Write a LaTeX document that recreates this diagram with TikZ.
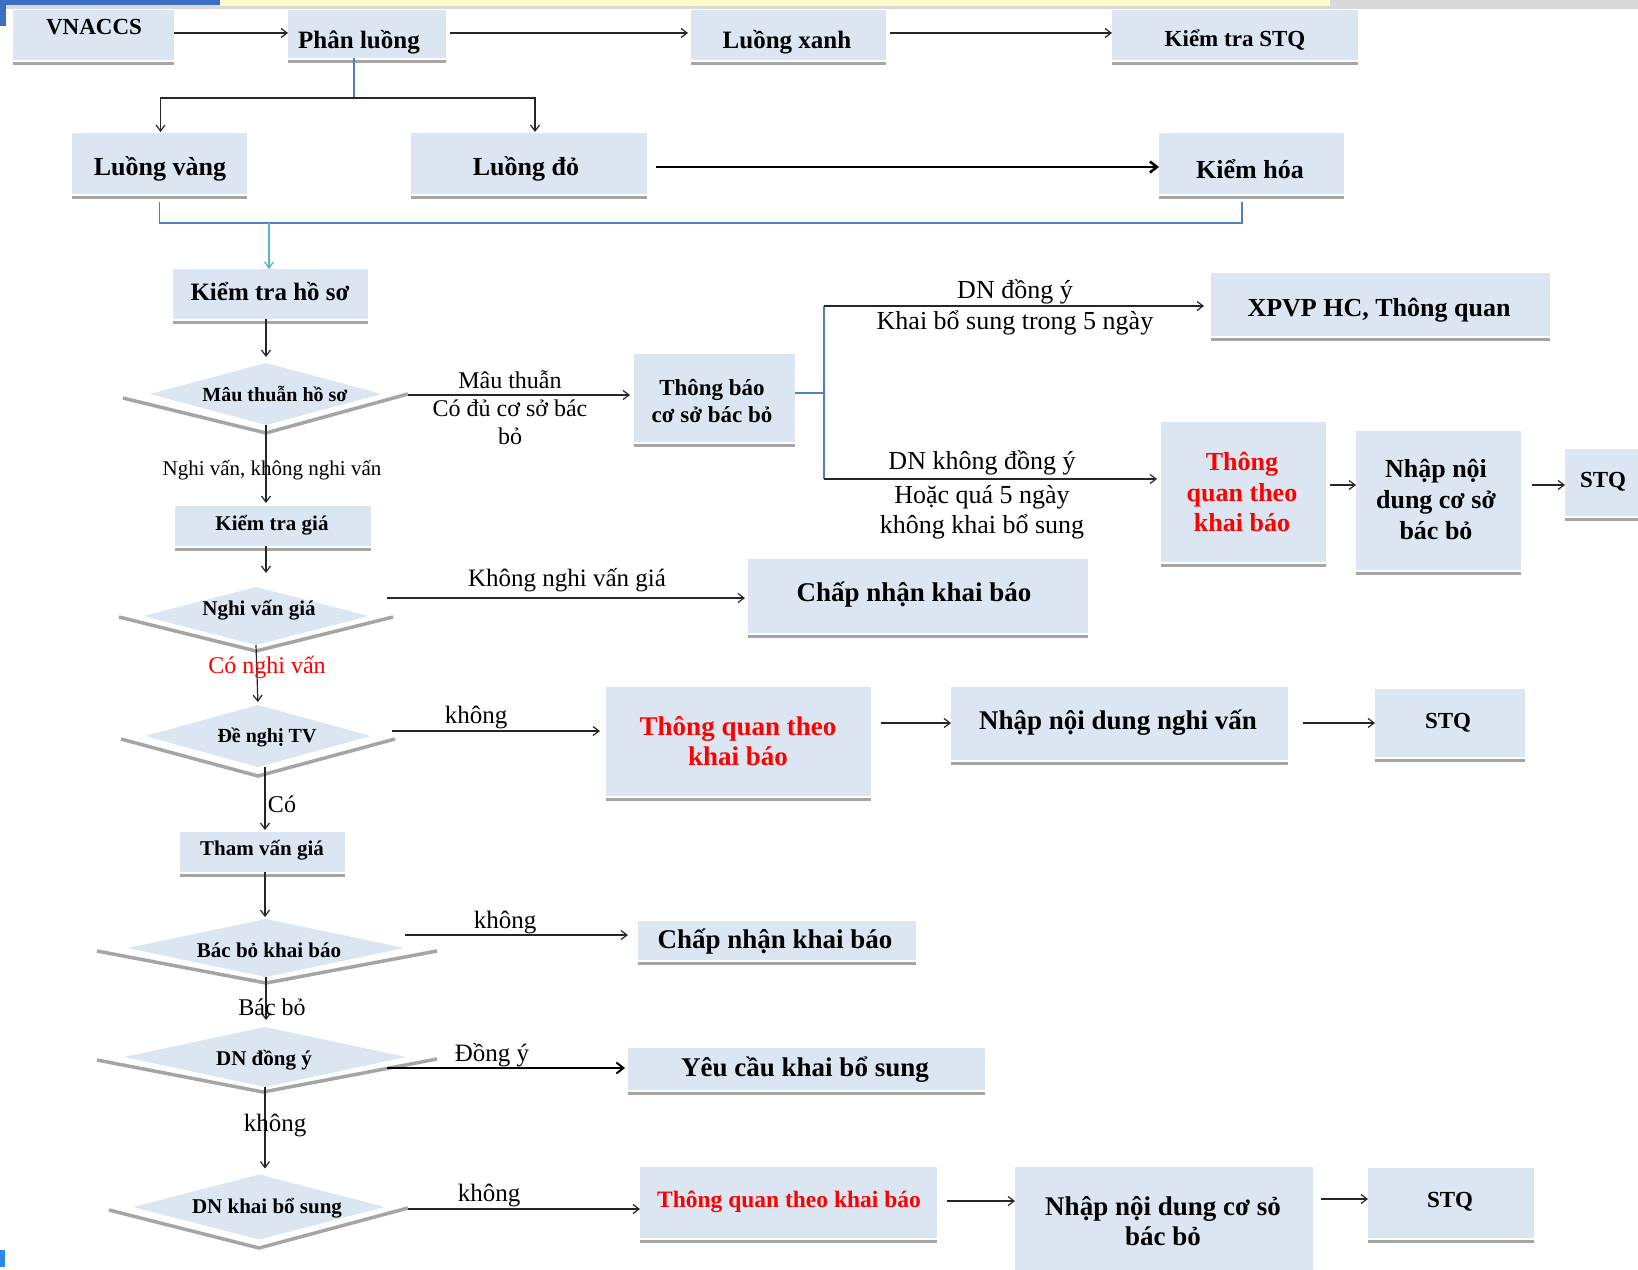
\documentclass[tikz,border=0pt]{standalone}
\usepackage{fontspec}
\setmainfont{Liberation Serif}
\usetikzlibrary{arrows.meta,shapes.geometric}
\definecolor{boxblue}{HTML}{DCE6F2}
\definecolor{shadgray}{HTML}{A5A5A5}
\definecolor{lineblue}{HTML}{4F81BD}
\definecolor{cyanline}{HTML}{5FB0D0}
\definecolor{redtxt}{HTML}{FF0000}
\definecolor{barblue}{HTML}{3A6FC4}
\definecolor{markblue}{HTML}{2A86F0}
\newcommand\BoxAt[5]{%
 \node[box, minimum width={(#4-#2)*1pt}, minimum height={(#5-#3)*1pt}] (#1) at ({(#2+#4)/2},{(#3+#5)/2}) {};
 \draw[shad] ([yshift=-3pt]#1.south west) -- ([yshift=-3pt]#1.south east);}
\begin{document}
\begin{tikzpicture}[x=1pt,y=-1pt,
 box/.style={fill=boxblue, draw=none, inner sep=0pt, outer sep=0pt},
 shad/.style={draw=shadgray, line width=3pt},
 dia/.style={diamond, fill=boxblue, draw=none, inner sep=0pt, outer sep=0pt},
 chev/.style={draw=shadgray, line width=3.5pt, line join=miter},
 arr/.style={draw=black!85, line width=1.2pt, -{Straight Barb[length=6pt,width=9pt]}},
 tarr/.style={draw=black, line width=2.6pt, -{Straight Barb[length=7pt,width=11pt]}},
 carr/.style={draw=cyanline, line width=1.3pt, -{Straight Barb[length=6pt,width=9pt]}},
 bl/.style={draw=lineblue, line width=1.6pt},
 bt/.style 2 args={inner sep=0pt, align=center, font=\fontsize{#1}{#2}\selectfont\bfseries},
 rt/.style 2 args={inner sep=0pt, align=center, font=\fontsize{#1}{#2}\selectfont},
]
\useasboundingbox (0,0) rectangle (1638,1269);
\clip (0,0) rectangle (1638,1269);
\fill[white] (0,0) rectangle (1638,1269);
% screenshot strip
\fill[gray!30] (0,0) rectangle (1638,9);
\fill[yellow!20] (220,0) rectangle (1330,6);
\fill[barblue] (0,0) rectangle (220,5);
\fill[barblue] (0,0) rectangle (6,26);
\fill[markblue] (0,1250) rectangle (5,1267);

% boxes
\BoxAt{vn}{13}{10}{174}{60}
\BoxAt{pl}{288}{10}{446}{58}
\BoxAt{lx}{691}{10}{886}{60}
\BoxAt{ks}{1112}{10}{1358}{60}
\BoxAt{lv}{72}{133}{247}{194}
\BoxAt{ld}{411}{133}{647}{194}
\BoxAt{kh}{1159}{133}{1344}{194}
\BoxAt{kths}{173}{269}{368}{319}
\BoxAt{tb}{634}{354}{795}{442}
\BoxAt{xp}{1211}{273}{1550}{336}
\BoxAt{rq}{1161}{422}{1326}{562}
\BoxAt{nc}{1356}{431}{1521}{570}
\BoxAt{sa}{1565}{449}{1660}{516}
\BoxAt{ktg}{175}{506}{371}{546}
\BoxAt{cna}{748}{559}{1088}{633}
\BoxAt{rqb}{606}{687}{871}{796}
\BoxAt{nv}{951}{687}{1288}{760}
\BoxAt{sb}{1375}{689}{1525}{757}
\BoxAt{tvg}{180}{832}{345}{872}
\BoxAt{cnb}{638}{921}{916}{960}
\BoxAt{yc}{628}{1048}{985}{1090}
\BoxAt{rqc}{640}{1167}{937}{1238}
\BoxAt{ncb}{1015}{1167}{1313}{1300}
\BoxAt{sc}{1368}{1168}{1534}{1238}

% diamonds
\node[dia, minimum width=232pt, minimum height=62pt] (d1) at (266,394) {};
\draw[chev] (123,398) -- (266,433) -- (408,394);
\node[dia, minimum width=225pt, minimum height=58pt] (d2) at (256,616) {};
\draw[chev] (119,617) -- (256,651) -- (393,617);
\node[dia, minimum width=225pt, minimum height=62pt] (d3) at (258,736) {};
\draw[chev] (121,739) -- (258,776) -- (395,739);
\node[dia, minimum width=277pt, minimum height=58pt] (d4) at (266,948) {};
\draw[chev] (97,951) -- (266,983) -- (437,951);
\node[dia, minimum width=282pt, minimum height=60pt] (d5) at (265,1057) {};
\draw[chev] (97,1060) -- (263,1092) -- (437,1059);
\node[dia, minimum width=251pt, minimum height=65pt] (d6) at (259,1207) {};
\draw[chev] (109,1210) -- (259,1248) -- (408,1208);

% top row connectors
\draw[arr] (vn.east |- 0,33) -- (pl.west |- 0,33);
\draw[arr, shorten <=4pt, shorten >=3pt] (pl.east |- 0,33) -- (lx.west |- 0,33);
\draw[arr, shorten <=4pt] (lx.east |- 0,33) -- (ks.west |- 0,33);
\path ([xshift=-13pt]pl.south) coordinate (pls);
\coordinate (pj) at (pls |- 0,98);
\draw[bl] (pls) -- (pj);
\draw[arr, shorten >=1pt] (pj) -| ([xshift=1pt]lv.north);
\draw[arr, shorten >=1pt] (pj) -| ([xshift=6pt]ld.north);
\draw[tarr, shorten <=9pt] (ld.east |- 0,167) -- (kh.west |- 0,167);

% bracket to Kiem tra ho so
\coordinate (bj) at (269,223);
\path ([xshift=-9.5pt,yshift=-8pt]kh.south) coordinate (khb);
\draw[bl] ([yshift=-8pt]lv.south) -- (lv.south |- bj) -- (khb |- bj) -- (khb);
\draw[carr] (bj) -- (bj |- kths.north);

% main vertical chain
\draw[arr, shorten >=6pt] (kths.south -| d1.south) -- (d1.north);
\draw[arr, shorten >=3pt] (d1.south) -- (d1.south |- ktg.north);
\draw[arr, shorten >=14pt] (d1.south |- ktg.south) -- (d1.south |- d2.north);
\draw[arr, shorten >=3pt] (d2.south) -- (d3.north);
\path ([xshift=2.5pt]tvg.north) coordinate (tvn);
\path ([xshift=2.5pt]tvg.south) coordinate (tvs);
\draw[arr, shorten >=2pt] (tvn |- d3.south) -- (tvn);
\draw[arr, shorten >=2pt] (tvs) -- (tvs |- d4.north);
\draw[arr, shorten >=7pt] (d4.south) -- (d4.south |- d5.north);
\draw[arr, shorten >=6pt] (d5.south) -- (d5.south |- d6.north);

% horizontal from diamonds
\coordinate (d1r) at (408,395);
\draw[arr, shorten >=4pt] (d1r) -- (tb.west |- d1r);
\coordinate (d2r) at (387,598);
\draw[arr, shorten >=3pt] (d2r) -- (cna.west |- d2r);
\coordinate (d3r) at (392,731);
\draw[arr, shorten >=6pt] (d3r) -- (rqb.west |- d3r);
\coordinate (d4r) at (405,935);
\draw[arr, shorten >=10pt] (d4r) -- (cnb.west |- d4r);
\coordinate (d5r) at (387,1068);
\draw[tarr, line width=2pt, shorten >=3pt] (d5r) -- (yc.west |- d5r);
\coordinate (d6r) at (408,1209);
\draw[arr] (d6r) -- (rqc.west |- d6r);

% Thong bao branches
\coordinate (tj) at (824,393);
\coordinate (tj1) at (824,306);
\coordinate (tj2) at (824,479);
\draw[bl] (tb.east |- tj) -- (tj);
\draw[bl] (tj1) -- (tj2);
\draw[arr, shorten >=7pt] (tj1) -- (xp.west |- tj1);
\draw[arr, shorten >=4pt] (tj2) -- (rq.west |- tj2);

% right chains
\draw[arr, shorten <=4pt] (rq.east |- 0,485) -- (nc.west |- 0,485);
\draw[arr, shorten <=11pt] (nc.east |- 0,485) -- (sa.west |- 0,485);
\draw[arr, shorten <=10pt] (rqb.east |- 0,723) -- (nv.west |- 0,723);
\draw[arr, shorten <=15pt] (nv.east |- 0,723) -- (sb.west |- 0,723);
\draw[arr, shorten <=10pt] (rqc.east |- 0,1201) -- (ncb.west |- 0,1201);
\draw[arr, shorten <=8pt] (ncb.east |- 0,1199) -- (sc.west |- 0,1199);

% box texts
\node[bt={23}{27}] (vn-t) at (94,27) {VNACCS};
\node[bt={25}{29}] (pl-t) at (359,42) {Phân luồng};
\node[bt={25}{29}] (lx-t) at (787,42) {Luồng xanh};
\node[bt={23}{27}] (ks-t) at (1235,40) {Kiểm tra STQ};
\node[bt={26}{30}] (lv-t) at (160,169) {Luồng vàng};
\node[bt={26}{30}] (ld-t) at (526,169) {Luồng đỏ};
\node[bt={26}{30}] (kh-t) at (1250,169) {Kiểm hóa};
\node[bt={25}{29}] (kths-t) at (270,292) {Kiểm tra hồ sơ};
\node[bt={20}{24}] (d1-t) at (275,394) {Mâu thuẫn hồ sơ};
\node[bt={23}{27}] (tb-t) at (712,401) {Thông báo\\cơ sở bác bỏ};
\node[bt={26}{30}] (xp-t) at (1379,310) {XPVP HC, Thông quan};
\node[bt={26}{30.5}, text=redtxt] (rq-t) at (1242,492) {Thông\\quan theo\\khai báo};
\node[bt={26}{31}] (nc-t) at (1436,499) {Nhập nội\\dung cơ sở\\bác bỏ};
\node[bt={23}{27}] (sa-t) at (1603,482) {STQ};
\node[bt={21}{25}] (ktg-t) at (272,525) {Kiểm tra giá};
\node[bt={21}{25}] (d2-t) at (259,610) {Nghi vấn giá};
\node[bt={27}{31}] (cna-t) at (914,595) {Chấp nhận khai báo};
\node[bt={20}{24}] (d3-t) at (267,737) {Đề nghị TV};
\node[bt={27}{30}, text=redtxt] (rqb-t) at (738,741) {Thông quan theo\\khai báo};
\node[bt={27}{31}] (nv-t) at (1118,723) {Nhập nội dung nghi vấn};
\node[bt={23}{27}] (sb-t) at (1448,723) {STQ};
\node[bt={21}{25}] (tvg-t) at (262,850) {Tham vấn giá};
\node[bt={21}{25}] (d4-t) at (269,950) {Bác bỏ khai báo};
\node[bt={27}{31}] (cnb-t) at (775,942) {Chấp nhận khai báo};
\node[bt={21}{25}] (d5-t) at (264,1060) {DN đồng ý};
\node[bt={27}{31}] (yc-t) at (805,1070) {Yêu cầu khai bổ sung};
\node[bt={21}{25}] (d6-t) at (267,1208) {DN khai bổ sung};
\node[bt={23.5}{27}, text=redtxt] (rqc-t) at (789,1202) {Thông quan theo khai báo};
\node[bt={27}{30}] (ncb-t) at (1163,1221) {Nhập nội dung cơ sỏ\\bác bỏ};
\node[bt={23}{27}] (sc-t) at (1450,1202) {STQ};

% connector labels
\node[rt={24}{28}] (l1) at (510,408) {Mâu thuẫn\\Có đủ cơ sở bác\\bỏ};
\node[rt={26}{31}] (l2) at (1015,307.5) {DN đồng ý\\Khai bổ sung trong 5 ngày};
\node[rt={26}{30}] (l3) at (982,463) {DN không đồng ý};
\node[rt={26}{30}] (l4) at (982,512) {Hoặc quá 5 ngày\\không khai bổ sung};
\node[rt={21}{25}] (l5) at (272,470) {Nghi vấn, không nghi vấn};
\node[rt={25}{29}] (l6) at (567,580) {Không nghi vấn giá};
\node[rt={24}{28}, text=redtxt] (l7) at (267,667) {Có nghi vấn};
\node[rt={25}{29}] (l8) at (476,717) {không};
\node[rt={24}{28}] (l9) at (282,804) {Có};
\node[rt={25}{29}] (l10) at (505,922) {không};
\node[rt={24}{28}] (l11) at (272,1007) {Bác bỏ};
\node[rt={25}{29}] (l12) at (492,1055) {Đồng ý};
\node[rt={25}{29}] (l13) at (275,1125) {không};
\node[rt={25}{29}] (l14) at (489,1195) {không};
\end{tikzpicture}
\end{document}
